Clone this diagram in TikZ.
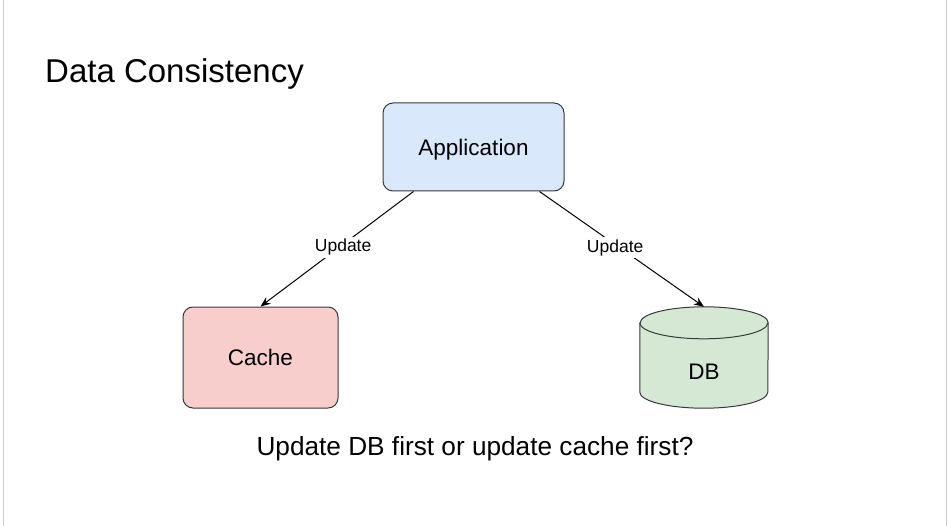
\documentclass[tikz,border=0pt]{standalone}
\usepackage{fontspec}
\setmainfont{Liberation Sans}
\usetikzlibrary{arrows.meta,calc}

\definecolor{appblue}{HTML}{DAE8FC}
\definecolor{cachered}{HTML}{F8CECC}
\definecolor{dbgreen}{HTML}{D5E8D4}
\definecolor{edgegray}{HTML}{36393D}
\definecolor{framegray}{HTML}{CCCCCC}

\begin{document}
\begin{tikzpicture}[x=1pt,y=-1pt,
        box/.style={draw=edgegray,line width=1pt,rounded corners=10pt,
            font=\fontsize{22.5}{27}\selectfont},
        dbbox/.style={inner sep=0pt,minimum width=128pt,minimum height=101pt},
        flow/.style={-{Stealth[length=10pt,width=8pt]},line width=1pt},
        edgelabel/.style={fill=white,inner sep=2pt,yshift=-3pt,
            font=\fontsize{17.5}{21}\selectfont}]
            \useasboundingbox (0,0) rectangle (949,526);
            \draw[framegray,line width=1pt] (3,0) -- (3,526);
            \draw[framegray,line width=1pt] (946,0) -- (946,526);
            % title and question
            \node[anchor=base west,inner sep=0pt,font=\fontsize{33}{39}\selectfont]
                (title) at (45,83) {Data Consistency};
            \node[anchor=base,inner sep=0pt,font=\fontsize{26.2}{31}\selectfont]
                (question) at (475,455) {Update DB first or update cache first?};
            % boxes
            \node[box,fill=appblue,minimum width=181pt,minimum height=88pt,text depth=0pt]
                (app) at (473.5,147) {Application};
            \node[box,fill=cachered,minimum width=155pt,minimum height=101pt]
                (cache) at (260.5,357.5) {Cache};
            \node[dbbox] (db) at (704,357.5) {};
            \fill[dbgreen] ([yshift=-16pt]db.north west) -- ([yshift=16pt]db.south west)
                arc[start angle=180,end angle=360,x radius=64pt,y radius=16pt]
                -- ([yshift=-16pt]db.north east)
                arc[start angle=0,end angle=180,x radius=64pt,y radius=16pt] -- cycle;
            \draw[edgegray,line width=1pt] ([yshift=-16pt]db.north west) -- ([yshift=16pt]db.south west)
                arc[start angle=180,end angle=360,x radius=64pt,y radius=16pt]
                -- ([yshift=-16pt]db.north east)
                arc[start angle=0,end angle=180,x radius=64pt,y radius=16pt] -- cycle;
            \draw[edgegray,line width=1pt] ([yshift=-16pt]db.north west)
                arc[start angle=180,end angle=360,x radius=64pt,y radius=16pt];
            \node[font=\fontsize{22.5}{27}\selectfont] (dblabel) at ($(db)+(0,14)$) {DB};
            % connectors
            \draw[flow] ($(app.south west)+(31,0)$) -- node[edgelabel,pos=0.46] {Update} (cache.north);
            \draw[flow] ($(app.south east)+(-25,0)$) -- node[edgelabel,pos=0.46] {Update} (db.north);
\end{tikzpicture}
\end{document}
